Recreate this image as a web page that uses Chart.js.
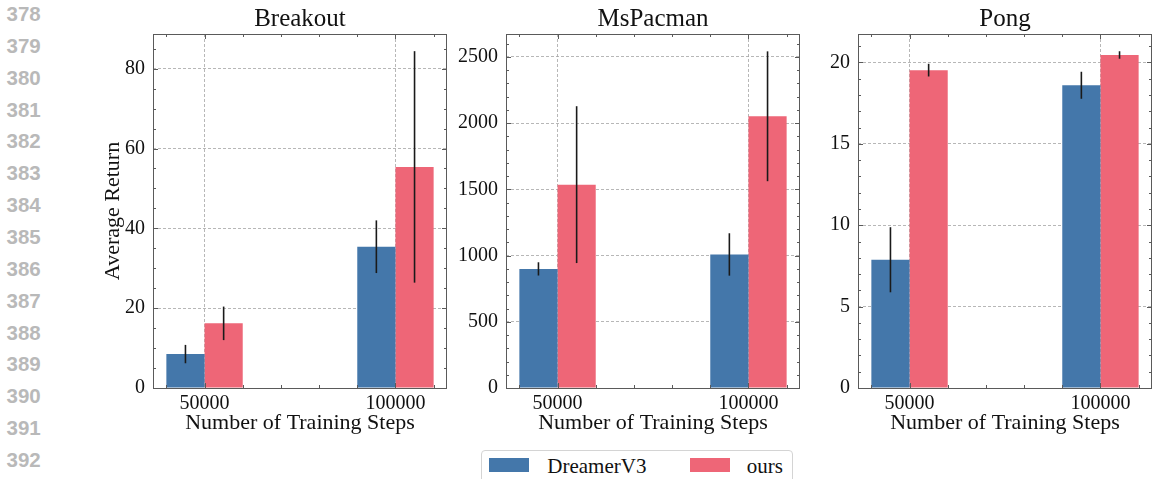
<!DOCTYPE html>
<html>
<head>
<meta charset="utf-8">
<script src="https://cdn.jsdelivr.net/npm/chart.js@4.4.1/dist/chart.umd.min.js"></script>
<style>
  html, body { margin: 0; padding: 0; background: #fff; }
  #page { position: relative; width: 1153px; height: 479px; overflow: hidden; }
  canvas { position: absolute; top: 0; }
  .lineno { position: absolute; left: 6.5px; font: bold 20.5px "Liberation Sans", Arial, sans-serif; color: #b9b9b9; }
  #legend { position: absolute; left: 481px; top: 450px; width: 312px; height: 40px; box-sizing: border-box;
            border: 1px solid #d4d4d4; border-radius: 4px; background: #fff; }
  .patch { position: absolute; top: 7.3px; width: 40px; height: 14px; }
  .label { position: absolute; top: 3.3px; font: 21px "Liberation Serif", "Times New Roman", serif; color: #111; white-space: nowrap; }
</style>
</head>
<body>
<div id="page">
  <canvas id="c0" width="355" height="440" style="left:93px"></canvas>
  <canvas id="c1" width="355" height="440" style="left:446px"></canvas>
  <canvas id="c2" width="355" height="440" style="left:798px"></canvas>
  <div id="legend"></div>
</div>
<script>
// 데이터
const games = ['Breakout', 'MsPacman', 'Pong'];
const stepLabels = ['50000', '100000'];
const stepPositions = [0, 1];
const seriesNames = ['DreamerV3', 'ours'];
const seriesColors = ['#4477AA', '#EE6677'];

const breakoutDreamer = [8.5, 35.4];
const breakoutDreamerErr = [2.3, 6.6];
const breakoutOurs = [16.2, 55.4];
const breakoutOursErr = [4.2, 29.0];

const mspacmanDreamer = [899, 1008];
const mspacmanDreamerErr = [50, 160];
const mspacmanOurs = [1535, 2051];
const mspacmanOursErr = [592, 490];

const pongDreamer = [7.88, 18.6];
const pongDreamerErr = [2.0, 0.83];
const pongOurs = [19.53, 20.46];
const pongOursErr = [0.39, 0.23];

// y축 눈금
const breakoutTicks = [0, 20, 40, 60, 80];
const mspacmanTicks = [0, 500, 1000, 1500, 2000, 2500];
const pongTicks = [0, 5, 10, 15, 20];

const yMax = [88.7, 2672, 21.75];
const yMinorStep = [5, 100, 1];

const dreamerValues = [breakoutDreamer, mspacmanDreamer, pongDreamer];
const dreamerErrors = [breakoutDreamerErr, mspacmanDreamerErr, pongDreamerErr];
const oursValues = [breakoutOurs, mspacmanOurs, pongOurs];
const oursErrors = [breakoutOursErr, mspacmanOursErr, pongOursErr];
const yTicks = [breakoutTicks, mspacmanTicks, pongTicks];

const serif = '"Liberation Serif", "Times New Roman", serif';

// 논문 줄 번호
const page = document.getElementById('page');
for (let n = 378; n <= 392; n++) {
    const d = document.createElement('div');
    d.className = 'lineno';
    d.style.top = (2 + (n - 378) * 31.86) + 'px';
    d.textContent = String(n);
    page.appendChild(d);
}

// 범례
const legend = document.getElementById('legend');
const patchLeft = [7, 208];
const labelLeft = [65.3, 264.7];
seriesNames.forEach((name, k) => {
    const p = document.createElement('div');
    p.className = 'patch';
    p.style.left = patchLeft[k] + 'px';
    p.style.background = seriesColors[k];
    legend.appendChild(p);
    const t = document.createElement('div');
    t.className = 'label';
    t.style.left = labelLeft[k] + 'px';
    t.textContent = name;
    legend.appendChild(t);
});

// 오차 막대, 테두리, 안쪽 눈금
const framePlugin = {
    id: 'frame',
    afterDatasetsDraw(chart, args, opts) {
        const { ctx, chartArea: a, scales: { x, y } } = chart;
        ctx.save();
        // error bars
        ctx.strokeStyle = '#1a1a1a';
        ctx.lineWidth = 1.6;
        chart.data.datasets.forEach((ds, d) => {
            const meta = chart.getDatasetMeta(d);
            meta.data.forEach((el, i) => {
                const v = ds.data[i].y, e = ds.errors[i];
                ctx.beginPath();
                ctx.moveTo(el.x, y.getPixelForValue(v + e));
                ctx.lineTo(el.x, y.getPixelForValue(v - e));
                ctx.stroke();
            });
        });
        // frame
        ctx.strokeStyle = '#5a5a5a';
        ctx.lineWidth = 1;
        ctx.strokeRect(a.left + 0.5, a.top + 0.5, a.right - a.left - 1, a.bottom - a.top);
        ctx.beginPath();
        const tickY = (py, len) => {
            ctx.moveTo(a.left, py); ctx.lineTo(a.left + len, py);
            ctx.moveTo(a.right, py); ctx.lineTo(a.right - len, py);
        };
        const tickX = (px, len) => {
            ctx.moveTo(px, a.bottom); ctx.lineTo(px, a.bottom - len);
            ctx.moveTo(px, a.top); ctx.lineTo(px, a.top + len);
        };
        const major = y.ticks.map(t => t.value);
        y.ticks.forEach(t => tickY(Math.round(y.getPixelForValue(t.value)) + 0.5, 5));
        for (let v = 0; v <= y.max; v += opts.minorY) {
            if (!major.includes(v)) tickY(Math.round(y.getPixelForValue(v)) + 0.5, 3);
        }
        x.ticks.forEach(t => tickX(Math.round(x.getPixelForValue(t.value)) + 0.5, 5));
        [-0.2, 0.2, 0.4, 0.6, 0.8, 1.2].forEach(v => tickX(Math.round(x.getPixelForValue(v)) + 0.5, 3));
        ctx.stroke();
        ctx.restore();
    }
};

const makeChart = (i) => {
    const ctx = document.getElementById('c' + i).getContext('2d');
    const datasets = [
        { label: seriesNames[0], data: stepPositions.map((x, k) => ({ x, y: dreamerValues[i][k] })), errors: dreamerErrors[i] },
        { label: seriesNames[1], data: stepPositions.map((x, k) => ({ x, y: oursValues[i][k] })), errors: oursErrors[i] }
    ].map((ds, k) => Object.assign(ds, {
        backgroundColor: seriesColors[k], borderWidth: 0, categoryPercentage: 0.4, barPercentage: 1
    }));

    return new Chart(ctx, {
        type: 'bar',
        data: { datasets },
        options: {
            responsive: false,
            animation: false,
            devicePixelRatio: 1,
            events: [],
            layout: { padding: { left: 0, right: 1, top: 0, bottom: 0 } },
            plugins: {
                legend: { display: false },
                tooltip: { enabled: false },
                title: {
                    display: true, text: games[i], fullSize: false, color: '#111',
                    font: { family: serif, size: 25, weight: 'normal', lineHeight: 1.2 },
                    padding: { top: 4, bottom: 0 }
                },
                frame: { minorY: yMinorStep[i] }
            },
            scales: {
                x: {
                    type: 'linear', min: -0.27, max: 1.27, offset: false,
                    grid: { color: '#a5a5a5', lineWidth: 0.8, drawTicks: false, offset: false },
                    border: { display: false, dash: [3, 2] },
                    afterBuildTicks: (s) => { s.ticks = stepPositions.map(v => ({ value: v })); },
                    afterFit: (s) => { s.height = 52; },
                    ticks: {
                        autoSkip: false, maxRotation: 0, padding: 4, color: '#111',
                        font: { family: serif, size: 20 },
                        callback: (v, idx) => stepLabels[idx]
                    },
                    title: {
                        display: true, text: 'Number of Training Steps', color: '#111',
                        font: { family: serif, size: 22 }, padding: { top: 0, bottom: 4 }
                    }
                },
                y: {
                    min: 0, max: yMax[i],
                    grid: { color: '#a5a5a5', lineWidth: 0.8, drawTicks: false },
                    border: { display: false, dash: [3, 2] },
                    afterBuildTicks: (s) => { s.ticks = yTicks[i].map(v => ({ value: v })); },
                    afterFit: (s) => { s.width = 60; },
                    ticks: {
                        autoSkip: false, padding: 8, color: '#111',
                        font: { family: serif, size: 20 },
                        callback: (v) => String(v)
                    },
                    title: {
                        display: i === 0, text: 'Average Return', color: '#111',
                        font: { family: serif, size: 22 }, padding: { top: 7, bottom: 0 }
                    }
                }
            }
        },
        plugins: [framePlugin]
    });
};

games.forEach((g, i) => makeChart(i));
</script>
</body>
</html>
